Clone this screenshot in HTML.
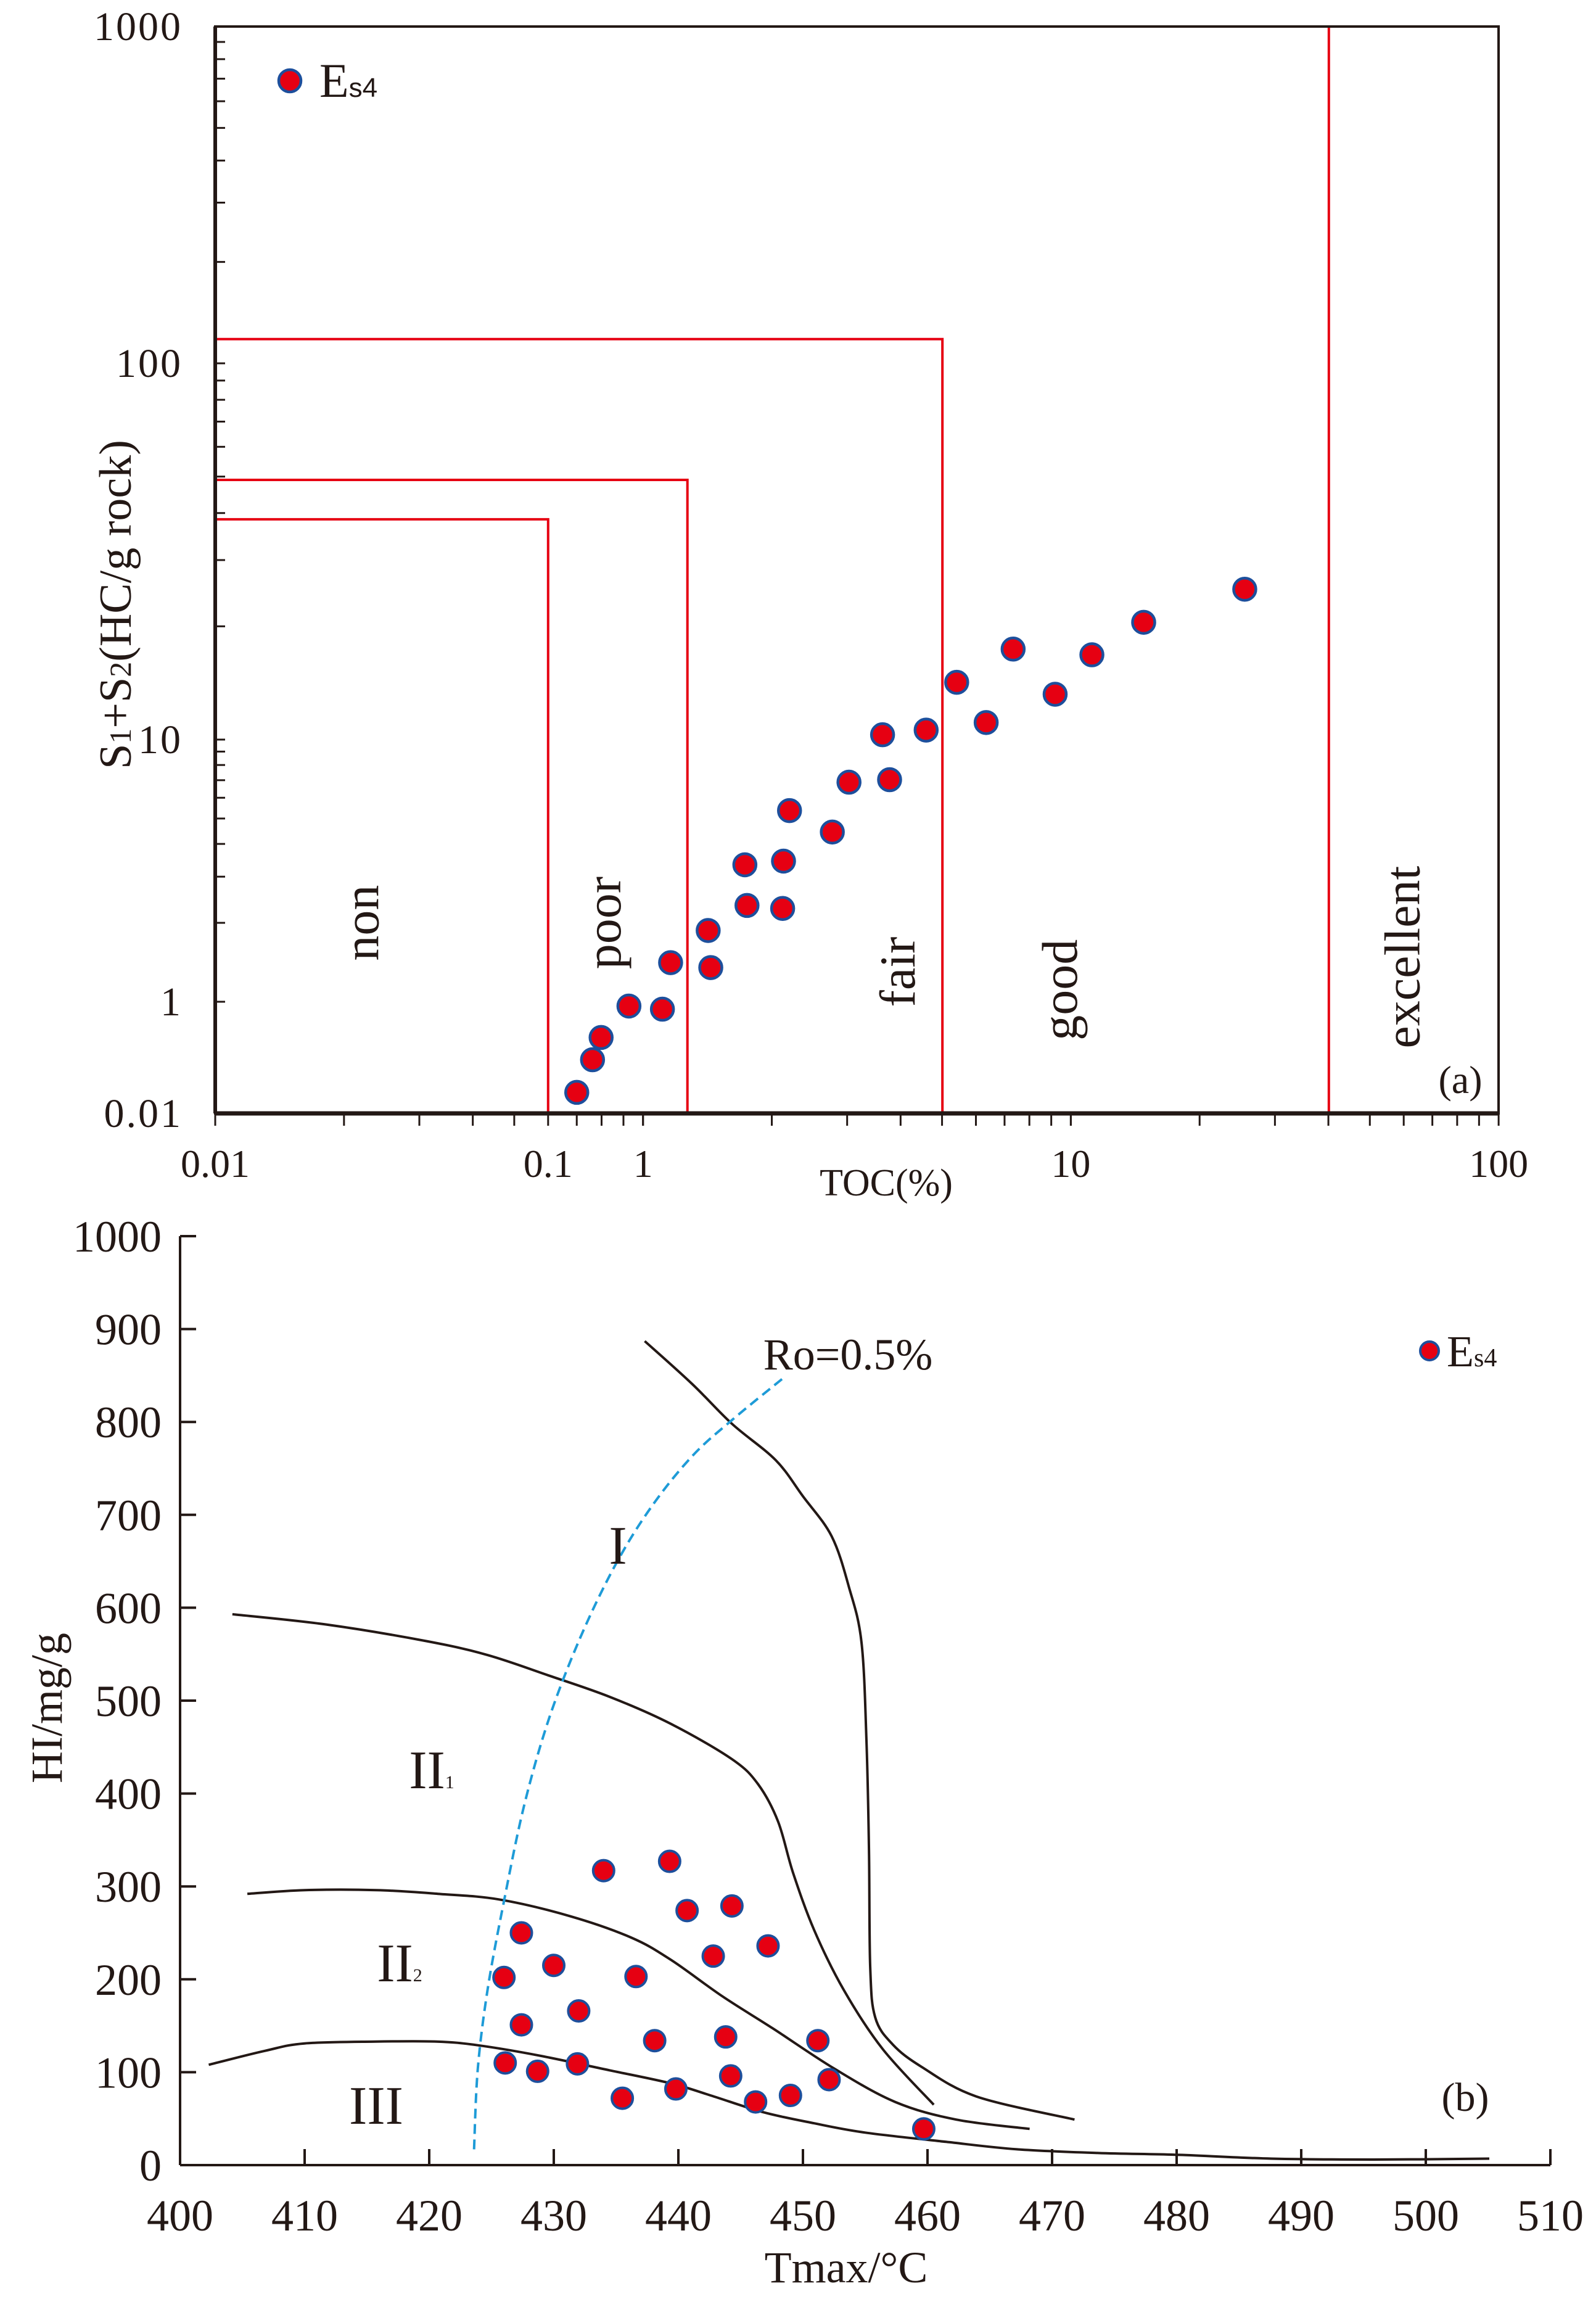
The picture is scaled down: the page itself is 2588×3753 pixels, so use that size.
<!DOCTYPE html>
<html><head><meta charset="utf-8">
<style>
html,body{margin:0;padding:0;background:#fff;}
svg{display:block;}
text{font-family:"Liberation Serif",serif;fill:#231815;}
</style></head>
<body>
<svg id="chart" width="2588" height="3753" viewBox="0 0 2588 3753" xmlns="http://www.w3.org/2000/svg">
<rect width="2588" height="3753" fill="#fff"/>
<g id="ga"></g>
<g id="gb"></g>
</svg>
<script>
// ===== Chart (a) data =====
const tocValues = [0.70,0.762,0.798,0.927,1.11,1.16,1.42,1.44,1.73,1.75,2.13,2.12,2.20,2.77,3.03,3.63,3.77,4.59,5.41,6.34,7.33,9.19,11.2,14.8,25.5];
const s1s2Values = [0.0238,0.0914,0.229,0.838,0.736,1.41,1.87,1.35,3.33,2.33,3.44,2.27,5.36,4.44,6.88,10.3,7.03,10.6,14.2,11.1,17.4,13.2,16.8,20.5,25.1];
const aXTickValues = [0.1,0.6,1,10,100];
const aXTickLabels = ['0.01','0.1','1','10','100'];
const aYTickValues = [0.01,1,10,100,1000];
const aYTickLabels = ['0.01','1','10','100','1000'];
const boundaryToc = [0.600,1.27,5.01];
const boundaryS = [38.5,49,118];
const excellentToc = 40.1;
const classNames = ['non','poor','fair','good','excellent'];
const classToc = [0.22,0.81,3.94,9.44,59.7];
const classS = [2.0,2.0,1.30,1.11,1.48];

// ===== Chart (b) data =====
const tmaxValues = [426.0,427.4,430.0,427.4,432.0,426.1,428.7,431.9,434.0,435.5,436.6,438.1,439.3,439.8,440.7,442.8,443.8,444.3,444.2,446.2,447.2,449.0,451.2,452.1,459.7];
const hiValues = [202,250,215,151,166,110,101,109,317,72,203,134,327,82,274,225,138,279,96,68,236,75,134,92,39];
const bXTicks = [400,410,420,430,440,450,460,470,480,490,500,510];
const bYTicks = [0,100,200,300,400,500,600,700,800,900,1000];
const curveIT = [437.3,441.1,444.3,447.8,450.0,452.3,453.7,454.7,455.1,455.3,455.4,455.8,457.2,459.5,463.9,471.8];
const curveIH = [887,841,798,759,720,677,622,563,457,339,213,159,130,106,74,49];
const curveII1T = [404.2,411.7,419.8,424.7,429.6,434.5,439.4,444.3,446.4,448.0,449.2,450.9,453.3,456.4,460.5];
const curveII1H = [593,582,564,549,527,504,475,437,410,370,315,253,188,125,65];
const curveII2T = [405.4,410.0,415.8,420.7,425.6,431.3,436.2,439.4,443.5,447.6,452.5,457.4,462.3,468.2];
const curveII2H = [292,296,296,292,286,268,245,221,182,147,104,68,49,39];
const curveIIIT = [402.3,406.8,410.0,415.7,420.6,423.9,428.8,434.5,439.4,442.6,446.8,450.9,455.0,461.5,467.2,473.7,480.2,487.6,495.8,505.1];
const curveIIIH = [108,123,131,133,133,129,118,102,88,75,57,45,35,25,17,13,11,7,6,7];
const roT = [423.6,423.9,424.7,426.0,427.6,429.6,432.1,434.9,437.8,441.1,444.3,448.4];
const roH = [17,104,190,284,386,480,567,645,708,763,802,847];

const NS='http://www.w3.org/2000/svg';
function mk(parent,tag,attrs,txt){const e=document.createElementNS(NS,tag);for(const k in attrs)e.setAttribute(k,attrs[k]);if(txt!==undefined)e.textContent=txt;parent.appendChild(e);return e;}

// ---------- Chart (a) ----------
const ga=document.getElementById('ga');
const aL=349,aR=2430,aT=43,aB=1805;
function ax(v){return aL+(Math.log10(v)+1)*693.7;}
const yAnchV=[0.01,1,10,100,1000], yAnchP=[1805,1624,1199,589,43];
function ay(v){const l=Math.log10(v);
  for(let i=0;i<yAnchV.length-1;i++){const l0=Math.log10(yAnchV[i]),l1=Math.log10(yAnchV[i+1]);
    if(l<=l1||i===yAnchV.length-2){return yAnchP[i]+(l-l0)/(l1-l0)*(yAnchP[i+1]-yAnchP[i]);}}
}
for(let i=0;i<boundaryToc.length;i++){
  const x=ax(boundaryToc[i]), y=ay(boundaryS[i]);
  const p=mk(ga,'polyline',{points:`${aL},${y} ${x},${y} ${x},${aB}`,fill:'none',stroke:'#e60012','stroke-width':4});
  
  
}
const ex=mk(ga,'line',{x1:ax(excellentToc),y1:aT,x2:ax(excellentToc),y2:aB,stroke:'#e60012','stroke-width':4});


const fr=mk(ga,'rect',{x:aL,y:aT,width:aR-aL,height:aB-aT,fill:'none',stroke:'#231815','stroke-width':4});


mk(ga,'line',{x1:aL,y1:aB,x2:aR,y2:aB,stroke:'#231815','stroke-width':7});
mk(ga,'line',{x1:aL,y1:aT,x2:aL,y2:aB,stroke:'#231815','stroke-width':6});
for(let d=-1;d<2;d++){for(let m=1;m<=10;m++){const v=m*Math.pow(10,d);const x=ax(v);
  const t=mk(ga,'line',{x1:x,y1:aB,x2:x,y2:aB+20,stroke:'#231815','stroke-width':3});
  
  }}
for(let d=0;d<3;d++){for(let m=1;m<=10;m++){const v=m*Math.pow(10,d);const y=ay(v);
  const t=mk(ga,'line',{x1:aL,y1:y,x2:aL+16,y2:y,stroke:'#231815','stroke-width':3});
  
  }}
aXTickValues.forEach((v,i)=>{const t=mk(ga,'text',{x:ax(v),y:1908,'font-size':64,'text-anchor':'middle'},aXTickLabels[i]);
  
  });
aYTickValues.forEach((v,i)=>{const t=mk(ga,'text',{x:296,y:ay(v)+22,'font-size':66,'text-anchor':'end','letter-spacing':3},aYTickLabels[i]);
  
  });
classNames.forEach((n,i)=>{const x=ax(classToc[i]),y=ay(classS[i]);
  const t=mk(ga,'text',{x:x,y:y,'font-size':82,'text-anchor':'middle',transform:`rotate(-90 ${x} ${y})`,dy:27},n);
  
  });
tocValues.forEach((v,i)=>{const c=mk(ga,'circle',{cx:ax(v),cy:ay(s1s2Values[i]),r:18,fill:'#e60012',stroke:'#1d4f9c','stroke-width':4.5});
  
  });
</script>
<script>
(function(){
const ga=document.getElementById('ga');
function mk(parent,tag,attrs,txt){const e=document.createElementNS('http://www.w3.org/2000/svg',tag);for(const k in attrs)e.setAttribute(k,attrs[k]);if(txt!==undefined)e.textContent=txt;parent.appendChild(e);return e;}
let t=mk(ga,'text',{x:1437,y:1938,'font-size':62,'text-anchor':'middle'},'TOC(%)');


t=mk(ga,'text',{x:0,y:0,'font-size':74,'text-anchor':'middle',transform:'translate(212 980) rotate(-90)'});


t.innerHTML='S<tspan font-size="50">1</tspan>+S<tspan font-size="50">2</tspan>(HC/g rock)';
t=mk(ga,'text',{x:2368,y:1772,'font-size':64,'text-anchor':'middle'},'(a)');


let c=mk(ga,'circle',{cx:470,cy:131,r:18,fill:'#e60012',stroke:'#1d4f9c','stroke-width':4.5});


t=mk(ga,'text',{x:518,y:157,'font-size':78});


t.innerHTML='E<tspan font-size="44" font-family="Liberation Sans, sans-serif">s4</tspan>';
})();
</script>
<script>
(function(){
const NS='http://www.w3.org/2000/svg';
function mk(parent,tag,attrs,txt){const e=document.createElementNS(NS,tag);for(const k in attrs)e.setAttribute(k,attrs[k]);if(txt!==undefined)e.textContent=txt;parent.appendChild(e);return e;}
const gb=document.getElementById('gb');
const bL=292,bR=2514,bT=2004,bB=3510;
function bx(t){return bL+(t-400)*20.2;}
function by(h){return bB-h*1.506;}
function smooth(T,H){const p=T.map((t,i)=>[bx(t),by(H[i])]);let d='M'+p[0][0]+','+p[0][1];
  for(let i=0;i<p.length-1;i++){const p0=p[i-1]||p[i],p1=p[i],p2=p[i+1],p3=p[i+2]||p2;
    const c1=[p1[0]+(p2[0]-p0[0])/6,p1[1]+(p2[1]-p0[1])/6],c2=[p2[0]-(p3[0]-p1[0])/6,p2[1]-(p3[1]-p1[1])/6];
    d+=` C${c1[0].toFixed(1)},${c1[1].toFixed(1)} ${c2[0].toFixed(1)},${c2[1].toFixed(1)} ${p2[0].toFixed(1)},${p2[1].toFixed(1)}`;}
  return d;}
let a=mk(gb,'line',{x1:bL,y1:bT,x2:bL,y2:bB,stroke:'#231815','stroke-width':4});


a=mk(gb,'line',{x1:bL,y1:bB,x2:bR,y2:bB,stroke:'#231815','stroke-width':4});


bXTicks.forEach(v=>{const x=bx(v);
  const t=mk(gb,'line',{x1:x,y1:bB,x2:x,y2:bB-26,stroke:'#231815','stroke-width':4});
  
  
  const l=mk(gb,'text',{x:x,y:3616,'font-size':72,'text-anchor':'middle'},String(v));
  
  });
bYTicks.forEach(v=>{const y=by(v);
  const t=mk(gb,'line',{x1:bL,y1:y,x2:bL+26,y2:y,stroke:'#231815','stroke-width':4});
  
  
  const l=mk(gb,'text',{x:262,y:y+25,'font-size':72,'text-anchor':'end'},String(v));
  
  });
[[curveIT,curveIH,'kerogen-curve-i'],[curveII1T,curveII1H,'kerogen-curve-ii1'],[curveII2T,curveII2H,'kerogen-curve-ii2'],[curveIIIT,curveIIIH,'kerogen-curve-iii']].forEach(c=>{
  const p=mk(gb,'path',{d:smooth(c[0],c[1]),fill:'none',stroke:'#231815','stroke-width':4});
  
  });
let ro=mk(gb,'path',{d:smooth(roT,roH),fill:'none',stroke:'#1e9bd7','stroke-width':4,'stroke-dasharray':'16 9'});


tmaxValues.forEach((v,i)=>{const c=mk(gb,'circle',{cx:bx(v),cy:by(hiValues[i]),r:17,fill:'#e60012',stroke:'#1d4f9c','stroke-width':4});
  
  });
let t=mk(gb,'text',{x:1375,y:2220,'font-size':72,'text-anchor':'middle'},'Ro=0.5%');


t=mk(gb,'text',{x:1002,y:2535,'font-size':88,'text-anchor':'middle'},'I');


t=mk(gb,'text',{x:700,y:2899,'font-size':88,'text-anchor':'middle'});


t.innerHTML='II<tspan font-size="30">1</tspan>';
t=mk(gb,'text',{x:648,y:3212,'font-size':88,'text-anchor':'middle'});


t.innerHTML='II<tspan font-size="30">2</tspan>';
t=mk(gb,'text',{x:610,y:3443,'font-size':88,'text-anchor':'middle'},'III');


t=mk(gb,'text',{x:2376,y:3422,'font-size':66,'text-anchor':'middle'},'(b)');


let c=mk(gb,'circle',{cx:2318,cy:2190,r:15,fill:'#e60012',stroke:'#1d4f9c','stroke-width':4});


t=mk(gb,'text',{x:2346,y:2215,'font-size':72});


t.innerHTML='E<tspan font-size="42">s4</tspan>';
t=mk(gb,'text',{x:1372,y:3700,'font-size':72,'text-anchor':'middle'},'Tmax/°C');


t=mk(gb,'text',{x:0,y:0,'font-size':72,'text-anchor':'middle',transform:'translate(100 2769) rotate(-90)'},'HI/mg/g');


})();
</script>
</body></html>
